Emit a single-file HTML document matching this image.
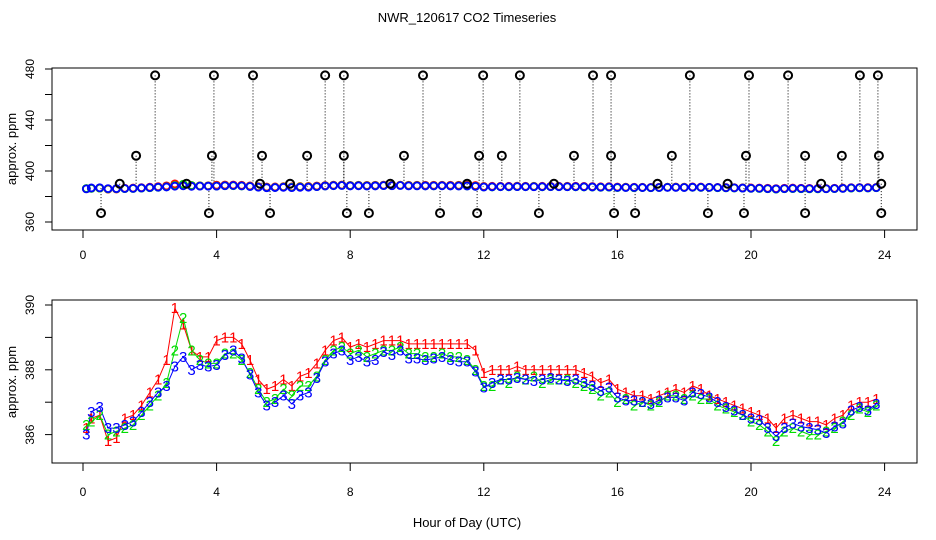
<!DOCTYPE html>
<html><head><meta charset="utf-8"><style>
body{margin:0;background:#fff}
svg{display:block;font-family:"Liberation Sans",Arial,sans-serif}
</style></head><body>
<svg id="c" width="936" height="540" viewBox="0 0 936 540">
<text x="467" y="22" text-anchor="middle" font-size="13">NWR_120617  CO2 Timeseries</text>
<text x="467" y="527" text-anchor="middle" font-size="13">Hour of Day (UTC)</text>
<text transform="translate(16,149) rotate(-90)" text-anchor="middle" font-size="13">approx. ppm</text>
<text transform="translate(16,382) rotate(-90)" text-anchor="middle" font-size="13">approx. ppm</text>
<rect x="52" y="68" width="865" height="162" fill="none" stroke="#000"/>
<rect x="52" y="300" width="865" height="163" fill="none" stroke="#000"/>
<g id="gtop"></g><g id="gbot"></g>
</svg>
<script>
const hours=[0.1,0.25,0.5,0.75,1,1.25,1.5,1.75,2,2.25,2.5,2.75,3,3.25,3.5,3.75,4,4.25,4.5,4.75,5,5.25,5.5,5.75,6,6.25,6.5,6.75,7,7.25,7.5,7.75,8,8.25,8.5,8.75,9,9.25,9.5,9.75,10,10.25,10.5,10.75,11,11.25,11.5,11.75,12,12.25,12.5,12.75,13,13.25,13.5,13.75,14,14.25,14.5,14.75,15,15.25,15.5,15.75,16,16.25,16.5,16.75,17,17.25,17.5,17.75,18,18.25,18.5,18.75,19,19.25,19.5,19.75,20,20.25,20.5,20.75,21,21.25,21.5,21.75,22,22.25,22.5,22.75,23,23.25,23.5,23.75];
const series1=[386.2,386.5,386.6,385.8,385.9,386.5,386.6,386.9,387.3,387.7,388.3,389.9,389.4,388.6,388.4,388.4,388.9,389.0,389.0,388.8,388.3,387.7,387.4,387.5,387.7,387.5,387.8,387.9,388.2,388.6,388.9,389.0,388.7,388.8,388.7,388.8,388.9,388.9,388.9,388.8,388.8,388.8,388.8,388.8,388.8,388.8,388.8,388.6,387.9,388.0,388.0,388.0,388.1,388.0,388.0,388.0,388.0,388.0,388.0,388.0,387.9,387.8,387.6,387.7,387.4,387.3,387.2,387.2,387.1,387.2,387.3,387.4,387.3,387.5,387.4,387.2,387.1,387.0,386.9,386.8,386.7,386.6,386.5,386.2,386.5,386.6,386.5,386.4,386.4,386.3,386.5,386.6,386.9,387.0,387.0,387.1];
const series2=[386.3,386.4,386.6,386.0,386.1,386.2,386.3,386.6,386.9,387.2,387.6,388.6,389.6,388.6,388.3,388.2,388.2,388.5,388.5,388.3,387.9,387.4,387.0,387.1,387.4,387.2,387.5,387.5,387.8,388.3,388.6,388.7,388.5,388.6,388.4,388.5,388.6,388.6,388.7,388.5,388.5,388.4,388.4,388.5,388.4,388.4,388.3,388.0,387.5,387.5,387.7,387.6,387.8,387.7,387.8,387.6,387.7,387.7,387.7,387.6,387.5,387.4,387.2,387.3,387.0,387.1,386.9,387.0,386.9,387.0,387.2,387.2,387.1,387.2,387.1,387.1,386.9,386.8,386.7,386.6,386.4,386.3,386.1,385.8,386.1,386.2,386.1,386.0,386.0,386.1,386.2,386.4,386.6,386.8,386.7,386.9];
const series3=[386.0,386.7,386.85,386.2,386.2,386.3,386.4,386.7,387.0,387.3,387.5,388.1,388.4,388.0,388.15,388.1,388.15,388.45,388.6,388.35,387.85,387.3,386.9,387.0,387.2,386.95,387.2,387.3,387.75,388.25,388.5,388.6,388.3,388.4,388.25,388.3,388.55,388.45,388.6,388.35,388.35,388.3,388.35,388.4,388.3,388.25,388.25,387.95,387.45,387.6,387.7,387.7,387.75,387.7,387.65,387.7,387.75,387.7,387.65,387.7,387.6,387.5,387.35,387.45,387.15,387.05,387.05,387.0,386.95,387.05,387.15,387.15,387.05,387.3,387.25,387.15,387.0,386.85,386.75,386.6,386.5,386.45,386.2,385.95,386.2,386.35,386.25,386.2,386.15,386.05,386.25,386.35,386.75,386.85,386.75,386.95];
const outlierHours=[2.16,3.92,5.09,7.25,7.81,10.18,11.98,13.08,15.27,15.81,18.17,19.94,21.11,23.26,23.8,1.59,3.86,5.36,6.71,7.81,9.61,11.86,12.54,14.7,15.81,17.63,19.85,21.62,22.72,23.83,0.54,3.77,5.6,7.9,8.56,10.69,11.8,13.65,15.9,16.53,18.71,19.79,21.62,23.9,1.1,3.1,5.3,6.2,9.2,11.5,14.1,17.2,19.3,22.1,23.9];
const outlierValues=[475,475,475,475,475,475,475,475,475,475,475,475,475,475,475,412,412,412,412,412,412,412,412,412,412,412,412,412,412,412,367,367,367,367,367,367,367,367,367,367,367,367,367,367,390,390,390,390,390,390,390,390,390,390,390];
const xTicks=[0,4,8,12,16,20,24];
const topYTicks=[360,380,400,420,440,460,480];
const topYLabels=[360,400,440,480];
const botYTicks=[386,387,388,389,390];
const botYLabels=[386,388,390];
const colors=['#ff0000','#00dd00','#0000ff'];
const labels=['1','2','3'];

const NS='http://www.w3.org/2000/svg';
const xs=h=>83+h*33.4;
const yTop=v=>222-(v-360)*1.275;
const yBot=v=>305+(390-v)*32.4;
function mk(tag,attrs,parent){const e=document.createElementNS(NS,tag);for(const k in attrs)e.setAttribute(k,attrs[k]);parent.appendChild(e);return e;}
const gTop=document.getElementById('gtop'),gBot=document.getElementById('gbot');

function xAxis(g,y0,ly,nm){
  mk('line',{x1:xs(0),x2:xs(24),y1:y0,y2:y0,stroke:'#000'},g);
  xTicks.forEach(t=>{
    const l=mk('line',{x1:xs(t),x2:xs(t),y1:y0,y2:y0+8,stroke:'#000'},g);
    
    
    const tx=mk('text',{x:xs(t),y:ly,'text-anchor':'middle','font-size':12},g);tx.textContent=t;
    
    
  });
}
function yAxis(g,ticks,lbls,yf,nm){
  ticks.forEach(t=>{
    const l=mk('line',{x1:45,x2:52,y1:yf(t),y2:yf(t),stroke:'#000'},g);
    
    
  });
  lbls.forEach(t=>{
    const tx=mk('text',{transform:`translate(34,${yf(t)}) rotate(-90)`,'text-anchor':'middle','font-size':12},g);tx.textContent=t;
    
    
  });
}
xAxis(gTop,230,259,'top');
yAxis(gTop,topYTicks,topYLabels,yTop,'top');
xAxis(gBot,463,496,'bottom');
yAxis(gBot,botYTicks,botYLabels,yBot,'bottom');

outlierHours.forEach((h,i)=>{
  const v=outlierValues[i];
  const l=mk('line',{x1:xs(h),x2:xs(h),y1:yTop(v),y2:yTop(387.5),stroke:'#000','stroke-dasharray':'1,2'},gTop);
  
  
});
[series1,series2,series3].forEach((s,k)=>{
  s.forEach((v,i)=>{
    const c=mk('circle',{cx:xs(hours[i]),cy:yTop(v),r:3.5,fill:'none',stroke:colors[k],'stroke-width':1.8},gTop);
    
    
  });
});
outlierHours.forEach((h,i)=>{
  const c=mk('circle',{cx:xs(h),cy:yTop(outlierValues[i]),r:4,fill:'none',stroke:'#000','stroke-width':2},gTop);
  
  
});

[series1,series2,series3].forEach((s,k)=>{
  const p=mk('polyline',{points:s.map((v,i)=>xs(hours[i])+','+yBot(v)).join(' '),fill:'none',stroke:colors[k],'stroke-width':1},gBot);
  
  
});
[series1,series2,series3].forEach((s,k)=>{
  s.forEach((v,i)=>{
    const t=mk('text',{x:xs(hours[i]),y:yBot(v)+5,'text-anchor':'middle','font-size':15,fill:colors[k]},gBot);
    t.textContent=labels[k];
    
    
  });
});
</script>
</body></html>
